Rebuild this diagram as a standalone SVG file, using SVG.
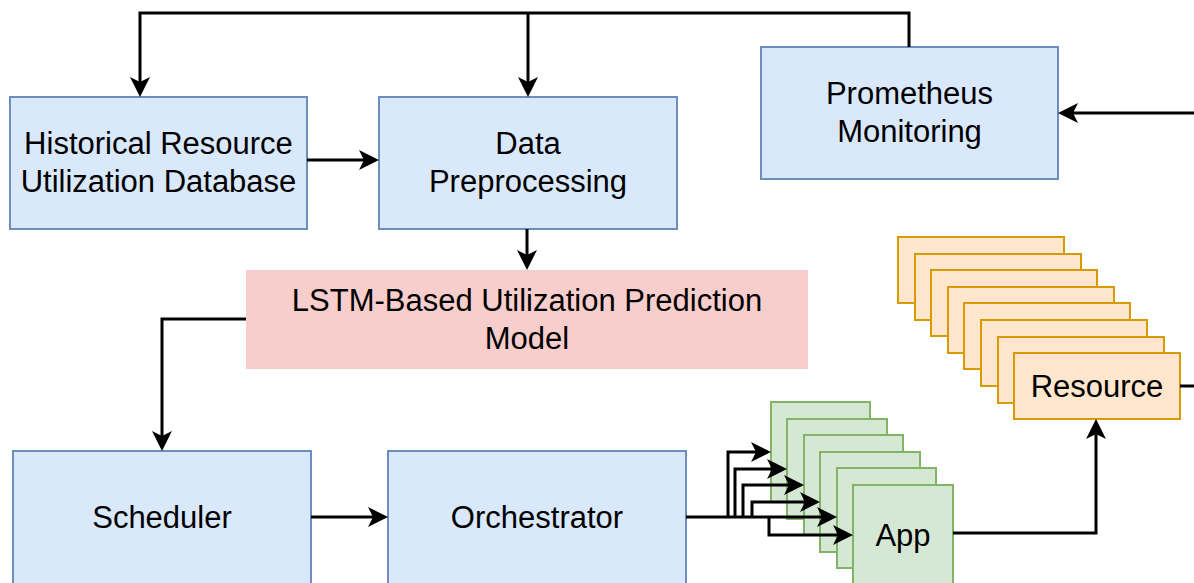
<svg xmlns="http://www.w3.org/2000/svg" width="1194" height="583" viewBox="0 0 1194 583">
<style>
.blue{fill:#dae8fc;stroke:#6c8ebf;stroke-width:2}
.red{fill:#f8cecc;stroke:none}
.green{fill:#d5e8d4;stroke:#82b366;stroke-width:2}
.orange{fill:#ffe6cc;stroke:#d79b00;stroke-width:2}
text{font-family:"Liberation Sans",Arial,sans-serif;font-size:31px;fill:#000;text-anchor:middle}
.edge{fill:none;stroke:#000;stroke-width:3}
</style>
<defs>
<marker id="arr" markerUnits="userSpaceOnUse" viewBox="0 -11 22 22" markerWidth="22" markerHeight="22" refX="5" refY="0" orient="auto">
<path d="M0,-10 L20,0 L0,10 L5,0 Z" fill="#000"/>
</marker>
</defs>
<rect width="1194" height="583" fill="#fff"/>
<g id="historical"><rect class="blue" x="10" y="97" width="297" height="132"/><text x="158.5" y="154">Historical Resource</text><text x="158.5" y="192">Utilization Database</text></g>
<g id="preprocessing"><rect class="blue" x="379" y="97" width="298" height="132"/><text x="528" y="154">Data</text><text x="528" y="192">Preprocessing</text></g>
<g id="prometheus"><rect class="blue" x="761" y="47" width="297" height="132"/><text x="909.5" y="104">Prometheus</text><text x="909.5" y="142">Monitoring</text></g>
<g id="lstm"><rect class="red" x="246" y="270" width="562" height="99"/><text x="527" y="311">LSTM-Based Utilization Prediction</text><text x="527" y="349">Model</text></g>
<g id="scheduler"><rect class="blue" x="13" y="451" width="298" height="134"/><text x="162" y="528">Scheduler</text></g>
<g id="orchestrator"><rect class="blue" x="388" y="451" width="298" height="134"/><text x="537" y="528">Orchestrator</text></g>
<g id="apps">
<rect class="green" x="771" y="402" width="99" height="100"/>
<rect class="green" x="787" y="419" width="100" height="100"/>
<rect class="green" x="804" y="435" width="99" height="100"/>
<rect class="green" x="820" y="452" width="100" height="100"/>
<rect class="green" x="837" y="468" width="99" height="100"/>
<rect class="green" x="853" y="485" width="100" height="100"/>
<text x="903" y="546">App</text>
</g>
<g id="resources">
<rect class="orange" x="898" y="237" width="166" height="66"/>
<rect class="orange" x="915" y="254" width="166" height="66"/>
<rect class="orange" x="931" y="270" width="166" height="66"/>
<rect class="orange" x="948" y="287" width="166" height="66"/>
<rect class="orange" x="964" y="303" width="166" height="66"/>
<rect class="orange" x="981" y="320" width="166" height="66"/>
<rect class="orange" x="998" y="337" width="166" height="66"/>
<rect class="orange" x="1014" y="353" width="166" height="66"/>
<text x="1097" y="397">Resource</text>
</g>
<g id="connectors">
<path class="edge" d="M909,47 V13 H140 V82" marker-end="url(#arr)"/>
<path class="edge" d="M528,13 V82" marker-end="url(#arr)"/>
<path class="edge" d="M307,160 H364" marker-end="url(#arr)"/>
<path class="edge" d="M527,229 V255" marker-end="url(#arr)"/>
<path class="edge" d="M246,319 H162 V436" marker-end="url(#arr)"/>
<path class="edge" d="M311,517 H373" marker-end="url(#arr)"/>
<path class="edge" d="M1194,113 H1073" marker-end="url(#arr)"/>
<path class="edge" d="M686,517 H822" marker-end="url(#arr)"/>
<path class="edge" d="M728,517 V452 H756" marker-end="url(#arr)"/>
<path class="edge" d="M735,517 V469 H772" marker-end="url(#arr)"/>
<path class="edge" d="M743,517 V485 H789" marker-end="url(#arr)"/>
<path class="edge" d="M752,517 V502 H805" marker-end="url(#arr)"/>
<path class="edge" d="M769,517 V535 H838" marker-end="url(#arr)"/>
<path class="edge" d="M953,533 H1096 V434" marker-end="url(#arr)"/>
<path class="edge" d="M1180,386 H1194"/>
</g>
</svg>
